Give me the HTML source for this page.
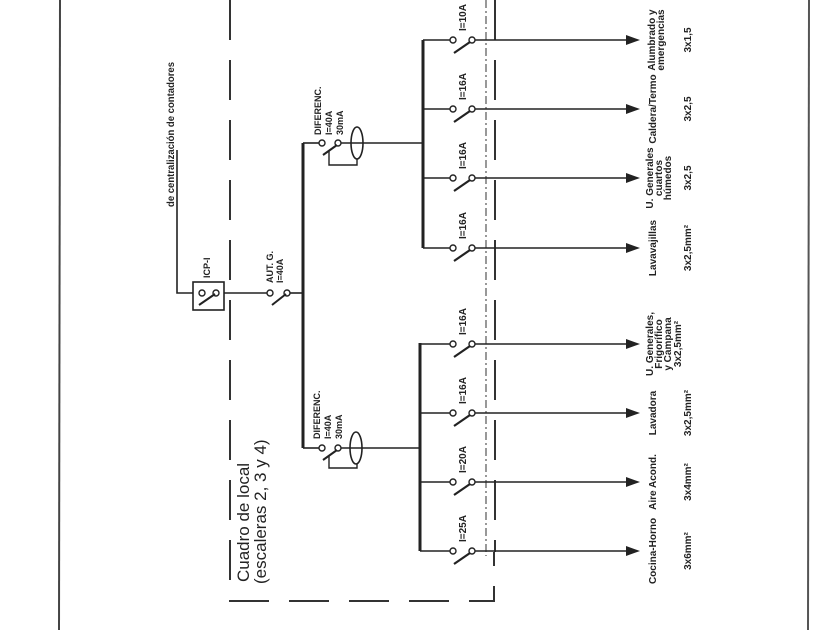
<!DOCTYPE html>
<html><head><meta charset="utf-8"><style>
html,body{margin:0;padding:0;background:#fff;}
svg{display:block;}
text{font-family:"Liberation Sans Narrow","Liberation Sans",sans-serif;fill:#222;}
.m{font-size:9px;font-weight:bold;}
.l{font-size:10px;font-weight:bold;}
</style></head><body>
<svg width="840" height="630" viewBox="0 0 840 630" xmlns="http://www.w3.org/2000/svg">
<rect width="840" height="630" fill="#fff"/>
<line x1="60" y1="0" x2="59" y2="630" stroke="#444" stroke-width="2"/>
<line x1="809" y1="0" x2="808" y2="630" stroke="#555" stroke-width="2"/>
<path d="M230,0 V601 H494 V552" fill="none" stroke="#333" stroke-width="2" stroke-dasharray="40,20"/>
<line x1="495" y1="0" x2="495" y2="552" stroke="#333" stroke-width="2" stroke-dasharray="40,20"/>
<line x1="486" y1="0" x2="486" y2="556" stroke="#555" stroke-width="1.2" stroke-dasharray="8,3,2,3"/>
<text class="l" transform="translate(174,207) rotate(-90)" textLength="145" lengthAdjust="spacingAndGlyphs">de centralización de contadores</text>
<path d="M177,150 V293 H193" fill="none" stroke="#222" stroke-width="1.6"/>
<rect x="193" y="282" width="31" height="28" fill="none" stroke="#222" stroke-width="1.6"/>
<circle cx="202" cy="293" r="3" fill="#fff" stroke="#222" stroke-width="1.4"/>
<circle cx="216" cy="293" r="3" fill="#fff" stroke="#222" stroke-width="1.4"/>
<line x1="199" y1="305" x2="215" y2="294" stroke="#222" stroke-width="2"/>
<text class="m" transform="translate(210,278) rotate(-90)">ICP-I</text>
<line x1="224" y1="293" x2="267" y2="293" stroke="#222" stroke-width="1.6"/>
<circle cx="270" cy="293" r="3" fill="#fff" stroke="#222" stroke-width="1.4"/>
<circle cx="287" cy="293" r="3" fill="#fff" stroke="#222" stroke-width="1.4"/>
<line x1="272" y1="305" x2="286" y2="294" stroke="#222" stroke-width="2"/>
<line x1="290" y1="293" x2="303" y2="293" stroke="#222" stroke-width="1.6"/>
<text class="m" transform="translate(273,283) rotate(-90)">AUT. G.</text>
<text class="m" transform="translate(283,283) rotate(-90)">I=40A</text>
<line x1="303" y1="143" x2="303" y2="448" stroke="#222" stroke-width="3"/>

<line x1="303" y1="143" x2="319" y2="143" stroke="#222" stroke-width="1.6"/>
<circle cx="322" cy="143" r="3" fill="#fff" stroke="#222" stroke-width="1.4"/>
<circle cx="338" cy="143" r="3" fill="#fff" stroke="#222" stroke-width="1.4"/>
<line x1="323" y1="155" x2="337" y2="145" stroke="#222" stroke-width="2"/>
<path d="M329,151 V165 H357 V159" fill="none" stroke="#222" stroke-width="1.4"/>
<line x1="341" y1="143" x2="423" y2="143" stroke="#222" stroke-width="1.6"/>
<ellipse cx="357" cy="143" rx="6" ry="16" fill="none" stroke="#222" stroke-width="1.6"/>
<text class="m" transform="translate(321,135) rotate(-90)">DIFERENC.</text>
<text class="m" transform="translate(332,135) rotate(-90)">I=40A</text>
<text class="m" transform="translate(343,135) rotate(-90)">30mA</text>
<line x1="423" y1="40" x2="423" y2="248" stroke="#222" stroke-width="3"/>

<line x1="303" y1="448" x2="319" y2="448" stroke="#222" stroke-width="1.6"/>
<circle cx="322" cy="448" r="3" fill="#fff" stroke="#222" stroke-width="1.4"/>
<circle cx="338" cy="448" r="3" fill="#fff" stroke="#222" stroke-width="1.4"/>
<line x1="323" y1="460" x2="337" y2="450" stroke="#222" stroke-width="2"/>
<path d="M329,456 V468 H357 V464" fill="none" stroke="#222" stroke-width="1.4"/>
<line x1="341" y1="448" x2="420" y2="448" stroke="#222" stroke-width="1.6"/>
<ellipse cx="356" cy="448" rx="6" ry="16" fill="none" stroke="#222" stroke-width="1.6"/>
<text class="m" transform="translate(320,439) rotate(-90)">DIFERENC.</text>
<text class="m" transform="translate(331,439) rotate(-90)">I=40A</text>
<text class="m" transform="translate(342,439) rotate(-90)">30mA</text>
<line x1="420" y1="343" x2="420" y2="551" stroke="#222" stroke-width="3"/>

<text transform="translate(249,582) rotate(-90)" style="font-size:17px;font-family:'Liberation Sans',sans-serif;fill:#222">Cuadro de local</text>
<text transform="translate(266,584) rotate(-90)" style="font-size:17px;font-family:'Liberation Sans',sans-serif;fill:#222">(escaleras 2, 3 y 4)</text>

<g stroke="#222" stroke-width="1.6">
<line x1="423" y1="40" x2="450" y2="40"/><line x1="475" y1="40" x2="628" y2="40"/>
<line x1="423" y1="109" x2="450" y2="109"/><line x1="475" y1="109" x2="628" y2="109"/>
<line x1="423" y1="178" x2="450" y2="178"/><line x1="475" y1="178" x2="628" y2="178"/>
<line x1="423" y1="248" x2="450" y2="248"/><line x1="475" y1="248" x2="628" y2="248"/>
<line x1="420" y1="344" x2="450" y2="344"/><line x1="475" y1="344" x2="628" y2="344"/>
<line x1="420" y1="413" x2="450" y2="413"/><line x1="475" y1="413" x2="628" y2="413"/>
<line x1="420" y1="482" x2="450" y2="482"/><line x1="475" y1="482" x2="628" y2="482"/>
<line x1="420" y1="551" x2="450" y2="551"/><line x1="475" y1="551" x2="628" y2="551"/>
</g>
<g fill="#fff" stroke="#222" stroke-width="1.4">
<circle cx="453" cy="40" r="3"/><circle cx="472" cy="40" r="3"/>
<circle cx="453" cy="109" r="3"/><circle cx="472" cy="109" r="3"/>
<circle cx="453" cy="178" r="3"/><circle cx="472" cy="178" r="3"/>
<circle cx="453" cy="248" r="3"/><circle cx="472" cy="248" r="3"/>
<circle cx="453" cy="344" r="3"/><circle cx="472" cy="344" r="3"/>
<circle cx="453" cy="413" r="3"/><circle cx="472" cy="413" r="3"/>
<circle cx="453" cy="482" r="3"/><circle cx="472" cy="482" r="3"/>
<circle cx="453" cy="551" r="3"/><circle cx="472" cy="551" r="3"/>
</g>
<g stroke="#222" stroke-width="2.2">
<line x1="454" y1="53" x2="470" y2="42"/>
<line x1="454" y1="122" x2="470" y2="111"/>
<line x1="454" y1="191" x2="470" y2="180"/>
<line x1="454" y1="261" x2="470" y2="250"/>
<line x1="454" y1="357" x2="470" y2="346"/>
<line x1="454" y1="426" x2="470" y2="415"/>
<line x1="454" y1="495" x2="470" y2="484"/>
<line x1="454" y1="564" x2="470" y2="553"/>
</g>
<g fill="#222">
<polygon points="640,40 626,35 626,45"/>
<polygon points="640,109 626,104 626,114"/>
<polygon points="640,178 626,173 626,183"/>
<polygon points="640,248 626,243 626,253"/>
<polygon points="640,344 626,339 626,349"/>
<polygon points="640,413 626,408 626,418"/>
<polygon points="640,482 626,477 626,487"/>
<polygon points="640,551 626,546 626,556"/>
</g>
<text class="l" transform="translate(466,31) rotate(-90)">I=10A</text>
<text class="l" transform="translate(466,100) rotate(-90)">I=16A</text>
<text class="l" transform="translate(466,169) rotate(-90)">I=16A</text>
<text class="l" transform="translate(466,239) rotate(-90)">I=16A</text>
<text class="l" transform="translate(466,335) rotate(-90)">I=16A</text>
<text class="l" transform="translate(466,404) rotate(-90)">I=16A</text>
<text class="l" transform="translate(466,473) rotate(-90)">I=20A</text>
<text class="l" transform="translate(466,542) rotate(-90)">I=25A</text>
<g text-anchor="middle">
<text class="l" transform="translate(655,40) rotate(-90)">Alumbrado y</text>
<text class="l" transform="translate(664,40) rotate(-90)">emergencias</text>
<text class="l" transform="translate(691,40) rotate(-90)">3x1,5</text>
<text class="l" transform="translate(656,109) rotate(-90)">Caldera/Termo</text>
<text class="l" transform="translate(691,109) rotate(-90)">3x2,5</text>
<text class="l" transform="translate(653,178) rotate(-90)">U. Generales</text>
<text class="l" transform="translate(662,178) rotate(-90)">cuartos</text>
<text class="l" transform="translate(671,178) rotate(-90)">húmedos</text>
<text class="l" transform="translate(691,178) rotate(-90)">3x2,5</text>
<text class="l" transform="translate(656,248) rotate(-90)">Lavavajillas</text>
<text class="l" transform="translate(691,248) rotate(-90)">3x2,5mm²</text>
<text class="l" transform="translate(653,344) rotate(-90)">U. Generales,</text>
<text class="l" transform="translate(662,344) rotate(-90)">Frigorífico</text>
<text class="l" transform="translate(671,344) rotate(-90)">y Campana</text>
<text class="l" transform="translate(681,344) rotate(-90)">3x2,5mm²</text>
<text class="l" transform="translate(656,413) rotate(-90)">Lavadora</text>
<text class="l" transform="translate(691,413) rotate(-90)">3x2,5mm²</text>
<text class="l" transform="translate(656,482) rotate(-90)">Aire Acond.</text>
<text class="l" transform="translate(691,482) rotate(-90)">3x4mm²</text>
<text class="l" transform="translate(656,551) rotate(-90)">Cocina-Horno</text>
<text class="l" transform="translate(691,551) rotate(-90)">3x6mm²</text>
</g>
</svg>
</body></html>
